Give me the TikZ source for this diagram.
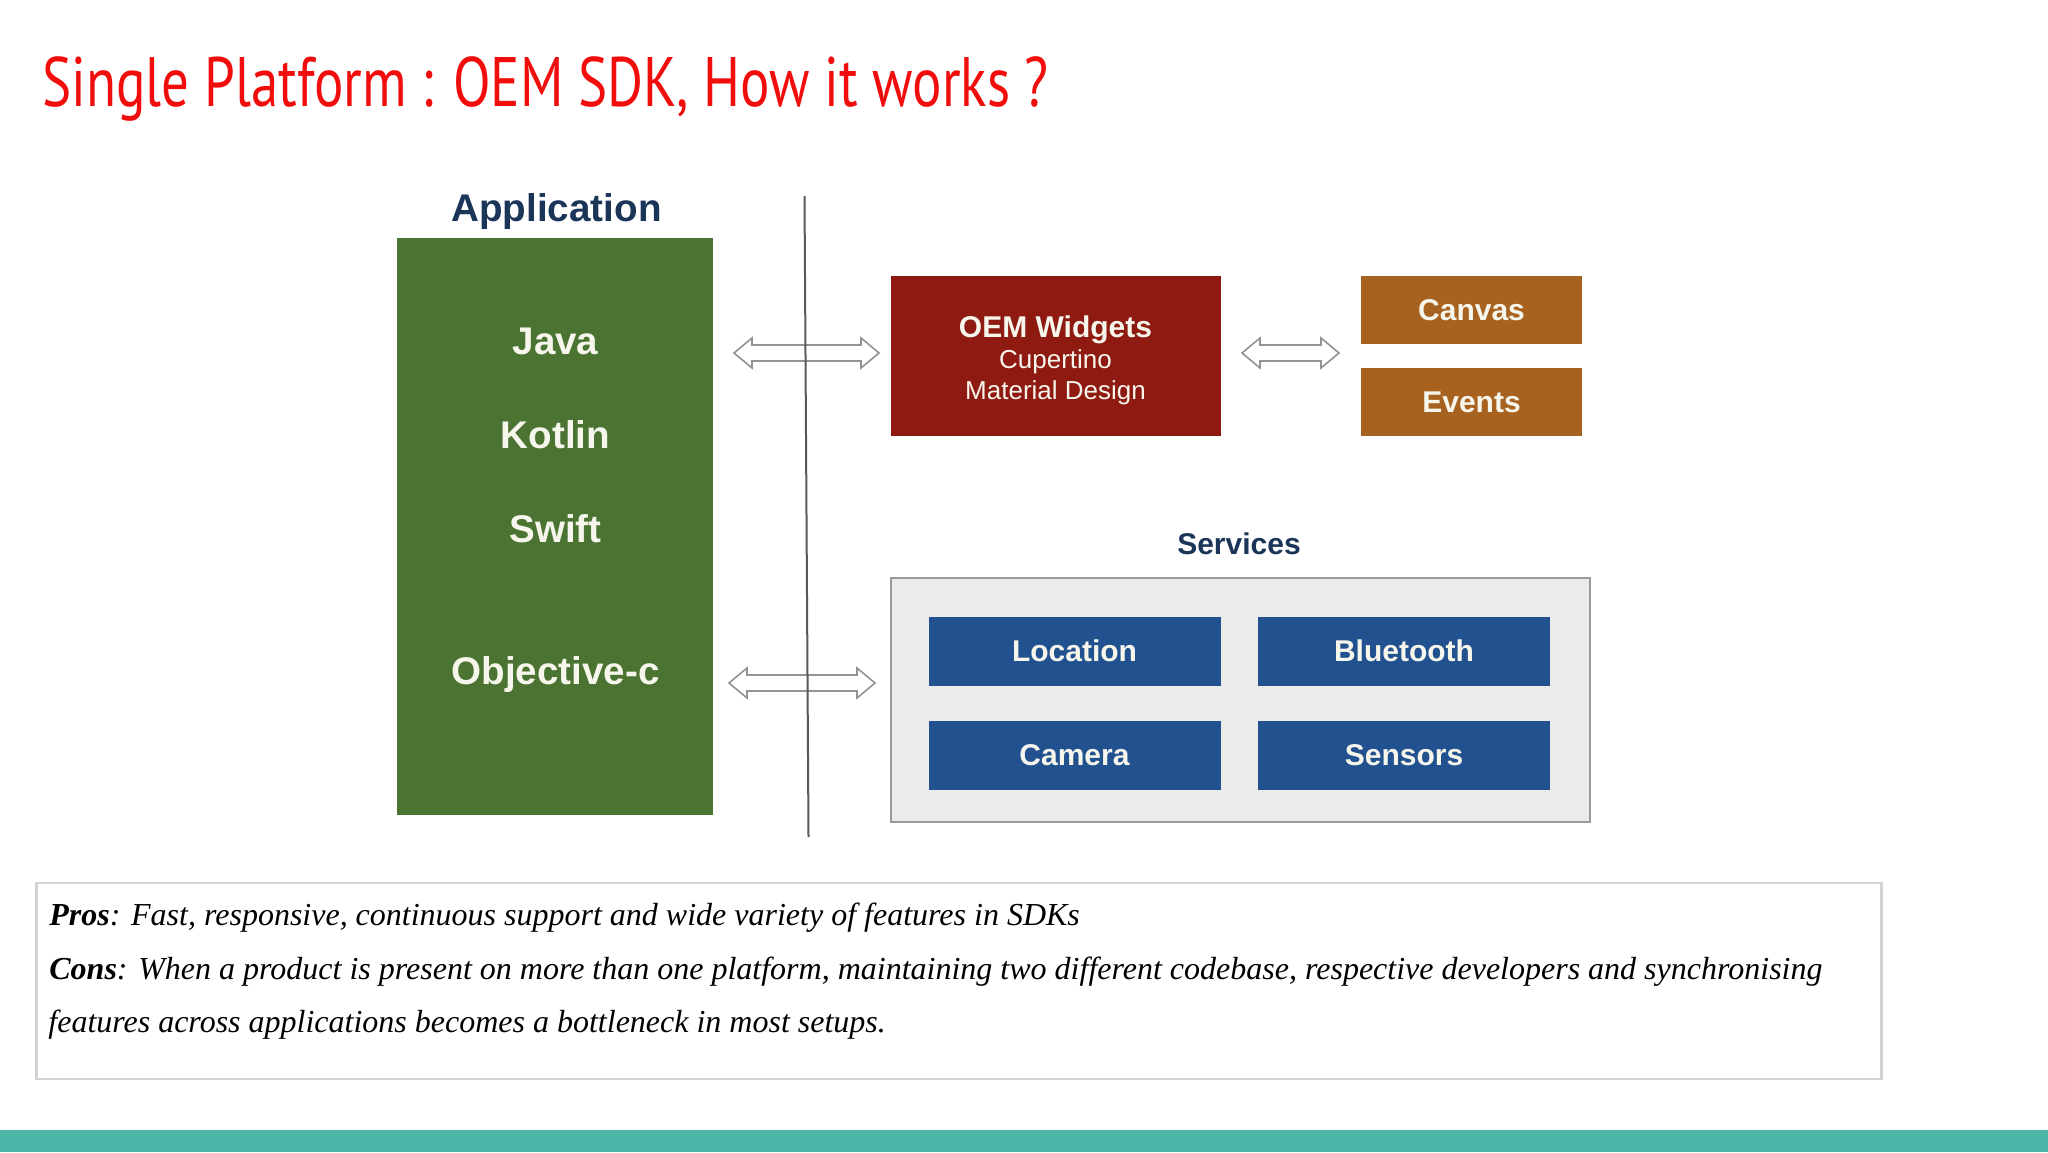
\documentclass[tikz,border=0pt]{standalone}
\usepackage{fontspec}
\setmainfont{Liberation Serif}
\setsansfont{Liberation Sans}
\newfontfamily\titlefont[FakeStretch=0.785]{PT Sans}
\newfontfamily\boxfont{Liberation Sans}
\newfontfamily\notefont{Liberation Serif}
\definecolor{titlered}{HTML}{F20D0D}
\definecolor{navy}{HTML}{1B3558}
\definecolor{appgreen}{HTML}{4B7332}
\definecolor{oemred}{HTML}{8E1A12}
\definecolor{canvorange}{HTML}{A8621F}
\definecolor{svcblue}{HTML}{21518F}
\definecolor{svcgray}{HTML}{EBEBEB}
\definecolor{svcedge}{HTML}{9A9A9A}
\definecolor{cream}{HTML}{F6F6EC}
\definecolor{teal}{HTML}{4DB6A8}
\definecolor{noteedge}{HTML}{D2D2D6}
\newcommand\DArrow[2]{%
  \draw[arr] (#1) -- ([shift={(18,-15)}]#1) -- ([shift={(18,-8)}]#1)
    -- ([shift={(-18,-8)}]#2) -- ([shift={(-18,-15)}]#2) -- (#2)
    -- ([shift={(-18,15)}]#2) -- ([shift={(-18,8)}]#2)
    -- ([shift={(18,8)}]#1) -- ([shift={(18,15)}]#1) -- cycle;}
\begin{document}
\begin{tikzpicture}[x=0.5pt,y=-0.5pt,
  bigtxt/.style={font=\boxfont\bfseries\fontsize{19.3}{23}\selectfont, text=cream, inner sep=0, anchor=base},
  hdr/.style={font=\boxfont\bfseries\fontsize{#1}{#1}\selectfont, text=navy, inner sep=0, anchor=base},
  colbox/.style={fill=#1, draw=none, inner sep=0, text=cream,
     font=\boxfont\bfseries\fontsize{15}{18}\selectfont},
  oemtxt/.style={inner sep=0, anchor=base, text=cream, font=\boxfont\fontsize{13}{15}\selectfont},
  arr/.style={draw=gray!85, fill=white, line width=0.8pt, line join=miter},
  vline/.style={draw=black!65, line width=1pt},
  noteline/.style={anchor=base west, inner sep=0, font=\notefont\itshape\fontsize{16}{19}\selectfont}]
\useasboundingbox (0,0) rectangle (2048,1152);
\fill[white] (0,0) rectangle (2048,1152);
\fill[teal] (0,1130) rectangle (2048,1152);

\node[anchor=base west, inner sep=0, font=\titlefont\fontsize{35}{40}\selectfont, text=titlered]
  (title) at (42,106) {Single Platform : OEM SDK, How it works ?};

% Application column
\node[hdr=19.3] (apphdr) at (556.5,221.5) {Application};
\node[colbox=appgreen, minimum width=158pt, minimum height=288.5pt] (app) at (555,526.5) {};
\node[bigtxt] (java) at (555.5,354) {Java};
\node[bigtxt] (kotlin) at (555.5,448) {Kotlin};
\node[bigtxt] (swift) at (555.5,542) {Swift};
\node[bigtxt] (objc) at (555.5,684) {Objective-c};

% OEM widgets
\node[colbox=oemred, minimum width=165pt, minimum height=80pt] (oem) at (1055.5,356) {};
\node[oemtxt, font=\boxfont\bfseries\fontsize{15}{18}\selectfont] (oemt) at (1055.5,337) {OEM Widgets};
\node[oemtxt] (cup) at (1055.5,368.5) {Cupertino};
\node[oemtxt] (mat) at (1055.5,399.5) {Material Design};
\node[colbox=canvorange, minimum width=110.5pt, minimum height=34pt] (canvas) at (1471.5,310) {Canvas};
\node[colbox=canvorange, minimum width=110.5pt, minimum height=34pt] (events) at (1471.5,402) {Events};

% Services
\node[hdr=15] (svchdr) at (1239,554) {Services};
\node[fill=svcgray, draw=svcedge, line width=1pt, minimum width=349.5pt, minimum height=122pt] (svc) at (1240,699.5) {};
\node[colbox=svcblue, minimum width=146pt, minimum height=34.5pt] (loc) at (1074.5,651) {Location};
\node[colbox=svcblue, minimum width=146pt, minimum height=34.5pt] (bt) at (1404,651) {Bluetooth};
\node[colbox=svcblue, minimum width=146pt, minimum height=34.5pt] (cam) at (1074.5,755) {Camera};
\node[colbox=svcblue, minimum width=146pt, minimum height=34.5pt] (sens) at (1404,755) {Sensors};

% Connectors
\coordinate (a1l) at (734,353); \coordinate (a1r) at (879,353);
\coordinate (a2l) at (729,683); \coordinate (a2r) at (875,683);
\coordinate (a3l) at (1242,353); \coordinate (a3r) at (1339,353);
\DArrow{a1l}{a1r}
\DArrow{a2l}{a2r}
\DArrow{a3l}{a3r}
\coordinate (vtop) at (804.5,196); \coordinate (vbot) at (808.5,837);
\draw[vline] (vtop) -- (vbot);

% Notes
\node[draw=noteedge, line width=1.2pt, fill=white, minimum width=922.5pt, minimum height=98pt, inner sep=0] (notes) at (959,981) {};
\node[noteline] (pros) at (49,925.5) {\textbf{Pros}: Fast, responsive, continuous support and wide variety of features in SDKs};
\node[noteline] (cons) at (49,979) {\textbf{Cons}: When a product is present on more than one platform, maintaining two different codebase, respective developers and synchronising};
\node[noteline] (feat) at (48,1032) {features across applications becomes a bottleneck in most setups.};
\end{tikzpicture}
\end{document}
